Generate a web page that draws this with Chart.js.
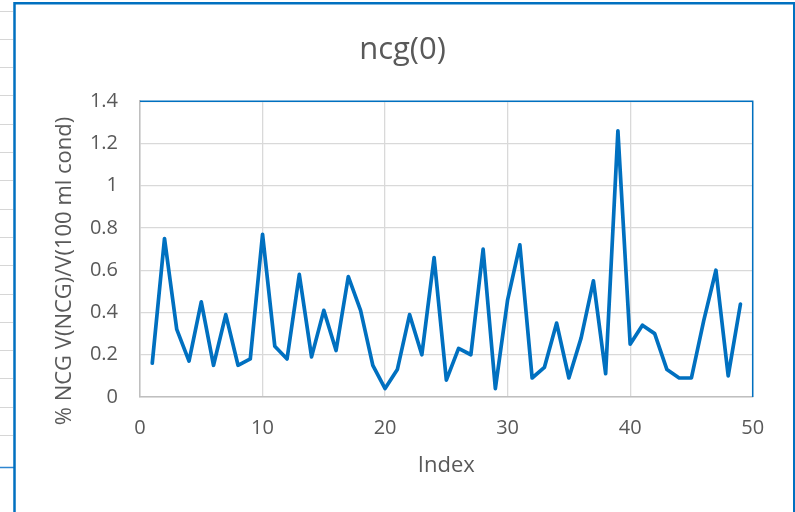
<!DOCTYPE html>
<html>
<head>
<meta charset="utf-8">
<title>ncg(0)</title>
<script src="https://cdn.jsdelivr.net/npm/chart.js@4.4.1/dist/chart.umd.min.js"></script>
<style>
  html, body { margin: 0; padding: 0; background: #fff; }
  #wrap { width: 795px; height: 512px; }
</style>
</head>
<body>
<div id="wrap"><canvas id="ncgChart" width="795" height="512"></canvas></div>
<script>
// sample index and measured NCG fraction
var sampleIndex = [
  1, 2, 3, 4, 5, 6, 7, 8, 9, 10,
  11, 12, 13, 14, 15, 16, 17, 18, 19, 20,
  21, 22, 23, 24, 25, 26, 27, 28, 29, 30,
  31, 32, 33, 34, 35, 36, 37, 38, 39, 40,
  41, 42, 43, 44, 45, 46, 47, 48, 49
];
var ncgValues = [
  0.16, 0.75, 0.32, 0.17, 0.45, 0.15, 0.39, 0.15, 0.18, 0.77,
  0.24, 0.18, 0.58, 0.19, 0.41, 0.22, 0.57, 0.41, 0.15, 0.04,
  0.13, 0.39, 0.20, 0.66, 0.08, 0.23, 0.20, 0.70, 0.04, 0.46,
  0.72, 0.09, 0.14, 0.35, 0.09, 0.28, 0.55, 0.11, 1.26, 0.25,
  0.34, 0.30, 0.13, 0.09, 0.09, 0.36, 0.60, 0.10, 0.44
];
var chartTitle = "ncg(0)";
var xTitle = "Index";
var yTitle = "% NCG V(NCG)/V(100 ml cond)";

var textColor = "#595959";
var lineBlue = "#0070C0";
var fontName = "'Open Sans', sans-serif";

var points = sampleIndex.map(function (x, i) {
  return { x: x, y: ncgValues[i] };
});

// sheet cells on the left, chart frame, white background
var framePlugin = {
  id: "frame",
  beforeDraw: function (chart) {
    var ctx = chart.ctx;
    ctx.save();
    ctx.fillStyle = "#fff";
    ctx.fillRect(0, 0, chart.width, chart.height);
    ctx.strokeStyle = "#d6d6d6";
    ctx.lineWidth = 1;
    for (var y = 10.5; y < 440; y += 28.3) {
      ctx.beginPath();
      ctx.moveTo(0, Math.round(y) + 0.5);
      ctx.lineTo(13, Math.round(y) + 0.5);
      ctx.stroke();
    }
    ctx.strokeStyle = "#2f86d0";
    ctx.lineWidth = 1.5;
    ctx.beginPath();
    ctx.moveTo(0, 467.5);
    ctx.lineTo(14, 467.5);
    ctx.stroke();
    // outer frame
    ctx.strokeStyle = lineBlue;
    ctx.lineWidth = 2.5;
    ctx.beginPath();
    ctx.moveTo(14.5, chart.height);
    ctx.lineTo(14.5, 3.2);
    ctx.lineTo(chart.width, 3.2);
    ctx.stroke();
    ctx.lineWidth = 2;
    ctx.beginPath();
    ctx.moveTo(794, 3);
    ctx.lineTo(794, chart.height);
    ctx.stroke();
    ctx.restore();
  },
  beforeDatasetsDraw: function (chart) {
    var a = chart.chartArea;
    var ctx = chart.ctx;
    ctx.save();
    ctx.strokeStyle = lineBlue;
    ctx.lineWidth = 1.5;
    ctx.beginPath();
    ctx.moveTo(a.left, a.top);
    ctx.lineTo(a.right, a.top);
    ctx.lineTo(a.right, a.bottom);
    ctx.stroke();
    ctx.restore();
  },
  afterDraw: function (chart) {
    // vertical axis title
    var ctx = chart.ctx;
    ctx.save();
    ctx.translate(65, 271);
    ctx.rotate(-Math.PI / 2);
    ctx.fillStyle = textColor;
    ctx.font = "22px " + fontName;
    ctx.textAlign = "center";
    ctx.textBaseline = "middle";
    ctx.fillText(yTitle, 0, 0);
    ctx.restore();
  }
};

var ctx = document.getElementById("ncgChart").getContext("2d");
var ncgChart = new Chart(ctx, {
  type: "scatter",
  data: {
    datasets: [
      {
        label: chartTitle,
        data: points,
        showLine: true,
        borderColor: lineBlue,
        backgroundColor: lineBlue,
        borderWidth: 3.7,
        pointRadius: 0,
        pointHoverRadius: 0,
        tension: 0,
        borderJoinStyle: "round",
        borderCapStyle: "round"
      }
    ]
  },
  options: {
    responsive: false,
    animation: false,
    devicePixelRatio: 1,
    layout: { padding: { left: 10, right: 0, top: 0, bottom: 0 } },
    plugins: {
      legend: { display: false },
      tooltip: { enabled: false },
      title: {
        display: true,
        text: chartTitle,
        color: textColor,
        font: { family: fontName, size: 31, weight: "normal", lineHeight: 1.2 },
        padding: { top: 32, bottom: 32 }
      }
    },
    scales: {
      x: {
        type: "linear",
        position: "bottom",
        min: 0,
        max: 50,
        ticks: {
          stepSize: 10,
          color: textColor,
          padding: 19,
          font: { family: fontName, size: 20 }
        },
        grid: { color: "#d9d9d9", lineWidth: 1.3, drawTicks: false },
        border: { color: "#bfbfbf", width: 1.5 },
        title: {
          display: true,
          text: xTitle,
          color: textColor,
          font: { family: fontName, size: 22, lineHeight: 1.2 },
          padding: { top: 0, bottom: 33 }
        },
        afterFit: function (scale) { scale.height = 115; }
      },
      y: {
        type: "linear",
        position: "left",
        min: 0,
        max: 1.4,
        ticks: {
          stepSize: 0.2,
          color: textColor,
          padding: 22,
          font: { family: fontName, size: 20 },
          callback: function (value) {
            return String(Math.round(value * 10) / 10);
          }
        },
        grid: { color: "#d9d9d9", lineWidth: 1.3, drawTicks: false },
        border: { color: "#bfbfbf", width: 1.5 },
        afterFit: function (scale) { scale.width = 130; }
      },
      yRight: {
        type: "linear",
        position: "right",
        display: true,
        grid: { display: false, drawTicks: false },
        border: { display: false },
        ticks: { display: false },
        afterFit: function (scale) { scale.width = 42.3; }
      }
    }
  },
  plugins: [framePlugin]
});
</script>
</body>
</html>
